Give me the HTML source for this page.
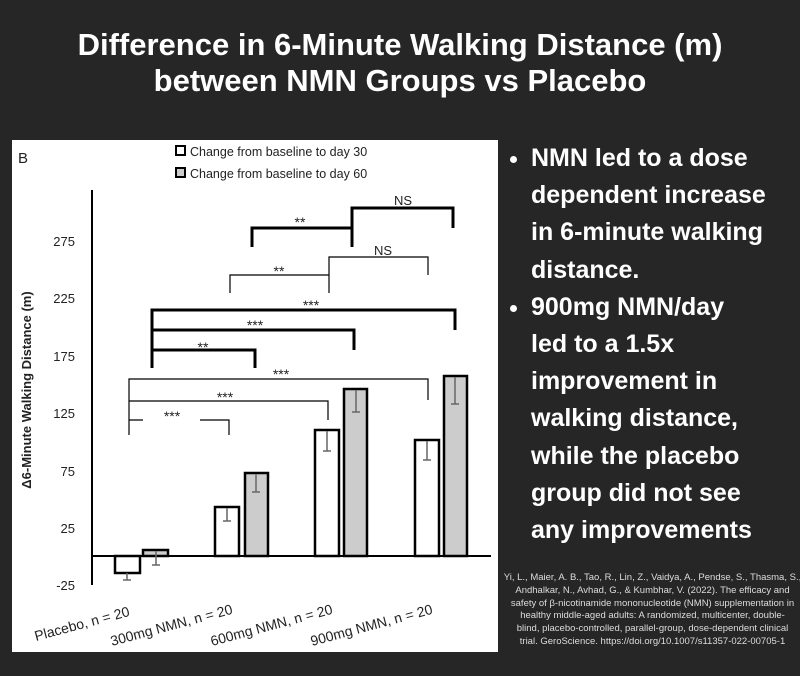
<!DOCTYPE html>
<html><head><meta charset="utf-8"><style>
body{margin:0;width:800px;height:676px;background:#262626;overflow:hidden;position:relative;font-family:"Liberation Sans",sans-serif}
.t{position:absolute;left:0;width:800px;text-align:center;color:#fff;font-weight:bold;font-size:31px;line-height:36px;top:27px;white-space:nowrap}
.p{position:absolute;left:12px;top:140px;width:486px;height:512px;background:#fff}
ul{position:absolute;left:503px;top:140px;margin:0;padding:0 0 0 28px;color:#fff;font-weight:bold;font-size:25px;line-height:37.2px;white-space:nowrap}
li{margin:0}
.c{position:absolute;left:500px;top:572px;width:305px;text-align:center;color:#ddd;font-size:9.5px;line-height:12.8px;white-space:nowrap}
</style></head><body>
<div class="t">Difference in 6-Minute Walking Distance (m)<br>between NMN Groups vs Placebo</div>
<div class="p"></div>
<svg style="position:absolute;left:0;top:0" width="800" height="676" font-family="Liberation Sans, DejaVu Sans, sans-serif">
<text x="18" y="163" font-size="15" fill="#222">B</text>
<rect x="176" y="146" width="9" height="9" fill="#fff" stroke="#000" stroke-width="2"/>
<text x="190" y="156" font-size="12.5" fill="#222">Change from baseline to day 30</text>
<rect x="176" y="168" width="9" height="9" fill="#ccc" stroke="#000" stroke-width="2"/>
<text x="190" y="178" font-size="12.5" fill="#222">Change from baseline to day 60</text>
<g font-size="13" fill="#222" text-anchor="end">
<text x="75" y="246">275</text>
<text x="75" y="303">225</text><text x="75" y="361">175</text><text x="75" y="418">125</text>
<text x="75" y="476">75</text><text x="75" y="533">25</text><text x="75" y="590">-25</text></g>
<text transform="translate(31,390) rotate(-90)" text-anchor="middle" font-size="13" font-weight="bold" fill="#222">Δ6-Minute Walking Distance (m)</text>
<line x1="92" y1="190" x2="92" y2="585" stroke="#000" stroke-width="2"/>
<line x1="92" y1="556" x2="491" y2="556" stroke="#000" stroke-width="2"/>
<g stroke="#000" stroke-width="2.5">
<rect x="115" y="556" width="25" height="17" fill="#fff"/>
<rect x="143" y="550" width="25" height="6" fill="#ccc"/>
<rect x="215" y="507" width="24" height="49" fill="#fff"/>
<rect x="245" y="473" width="23" height="83" fill="#ccc"/>
<rect x="315" y="430" width="24" height="126" fill="#fff"/>
<rect x="344" y="389" width="23" height="167" fill="#ccc"/>
<rect x="415" y="440" width="24" height="116" fill="#fff"/>
<rect x="444" y="376" width="23" height="180" fill="#ccc"/></g>
<g stroke="#666" stroke-width="1.5" fill="none">
<path d="M127 573V580M123 580H131M156 551V565M152 565H160M227 508V521M223 521H231M256 474V492M252 492H260M327 431V451M323 451H331M356 390V412M352 412H360M427 441V460M423 460H431M455 377V404M451 404H459"/></g>
<g fill="none" stroke="#000">
<path stroke-width="3" d="M252 247V228H352V247M352 228V208H453V228"/>
<path stroke-width="1.2" d="M230 293V275H329V293M329 275V257H428V275"/>
<path stroke-width="3" d="M152 368V310H455V330M152 330H354V350M152 350H255V368"/>
<path stroke-width="1.2" d="M129 435V379H428V400M129 401H328V420M129 420H143M200 420H229V435"/></g>
<g font-size="14" fill="#222" text-anchor="middle">
<text x="300" y="227">**</text><text x="403" y="205" font-size="13">NS</text>
<text x="279" y="276">**</text><text x="383" y="255" font-size="13">NS</text>
<text x="311" y="310">***</text><text x="255" y="330">***</text><text x="203" y="352">**</text>
<text x="281" y="379">***</text><text x="225" y="402">***</text><text x="172" y="421">***</text></g>
<g font-size="14" fill="#222">
<text transform="translate(36,641) rotate(-15)">Placebo, n = 20</text>
<text transform="translate(112,646) rotate(-15)">300mg NMN, n = 20</text>
<text transform="translate(212,646) rotate(-15)">600mg NMN, n = 20</text>
<text transform="translate(312,646) rotate(-15)">900mg NMN, n = 20</text></g>
</svg>
<ul><li>NMN led to a dose<br>dependent increase<br>in 6-minute walking<br>distance.</li><li>900mg NMN/day<br>led to a 1.5x<br>improvement in<br>walking distance,<br>while the placebo<br>group did not see<br>any improvements</li></ul>
<div class="c">Yi, L., Maier, A. B., Tao, R., Lin, Z., Vaidya, A., Pendse, S., Thasma, S.,<br>Andhalkar, N., Avhad, G., &amp; Kumbhar, V. (2022). The efficacy and<br>safety of β-nicotinamide mononucleotide (NMN) supplementation in<br>healthy middle-aged adults: A randomized, multicenter, double-<br>blind, placebo-controlled, parallel-group, dose-dependent clinical<br>trial. GeroScience. https://doi.org/10.1007/s11357-022-00705-1</div>
</body></html>
